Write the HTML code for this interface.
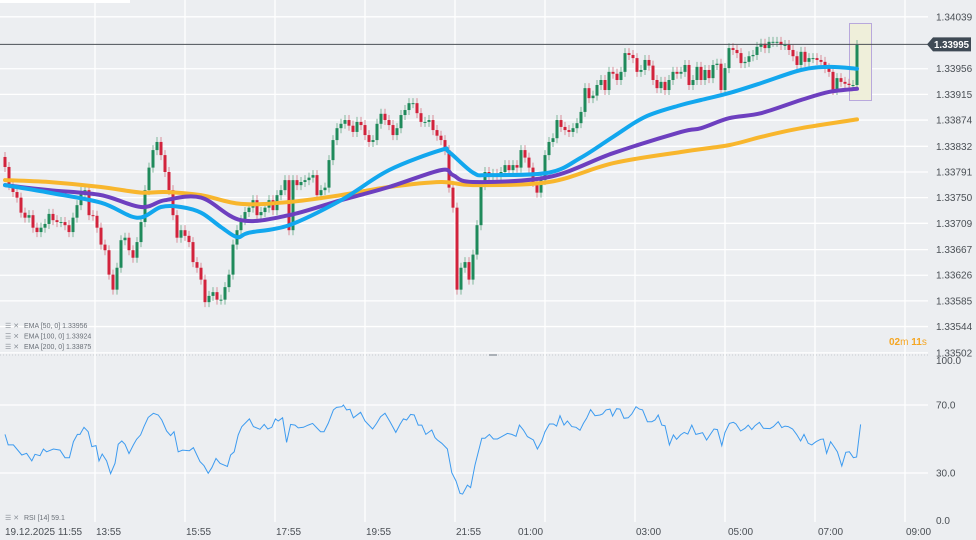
<!DOCTYPE html>
<html><head><meta charset="utf-8"><style>
html,body{margin:0;padding:0;background:#eceef1;}
#wrap{position:relative;width:976px;height:540px;overflow:hidden;background:#eceef1;font-family:"Liberation Sans",sans-serif;}
svg{position:absolute;left:0;top:0;}
</style></head><body>
<div id="wrap">
<svg id="chart" width="976" height="540"></svg>
</div>
<script>
// ---- data (prices in 1e-5 units above 1.33000) ----
const closes5 = [799,770,759,750,726,718,722,702,695,702,708,724,714,711,711,706,695,718,738,759,762,722,721,702,675,666,627,603,638,682,686,666,654,679,711,762,798,826,839,818,791,762,722,686,698,689,679,647,638,619,583,593,599,587,587,607,627,675,698,714,727,734,746,722,727,734,746,730,754,762,778,698,778,770,775,778,782,786,754,762,766,810,842,861,868,874,865,855,871,866,850,839,842,868,884,874,866,850,861,882,890,901,901,885,871,871,874,858,849,842,826,766,734,603,638,647,619,659,706,770,791,786,788,785,791,802,794,802,798,826,814,798,775,758,778,818,839,845,874,863,858,855,861,869,887,925,909,913,930,938,922,951,948,938,951,981,978,973,951,954,970,961,938,925,935,922,938,951,948,951,962,930,938,959,938,954,941,962,964,922,957,989,986,981,965,967,976,978,991,996,989,999,999,999,994,994,986,976,962,983,967,973,973,970,967,957,951,922,941,935,932,930,930,994];
const firstOpen5 = 815;
const wick5 = 8;

const ema50Idx = [0,11,24,33,39,44,49,54,58,61,71,84,96,109,111,117,121,136,144,152,160,169,174,181,189,199,206,213];
const ema50Val = [770,758,742,718,735,735,726,703,687,694,706,746,794,826,823,790,786,790,814,847,879,898,906,917,933,954,959,956];
const ema100Idx = [0,11,24,34,40,49,59,71,84,96,109,112,117,136,152,169,174,181,189,199,206,213];
const ema100Val = [770,762,754,735,746,750,714,722,746,767,794,786,775,783,821,855,861,877,885,906,919,924];
const ema200Idx = [0,11,24,34,40,49,59,71,84,96,109,117,136,152,169,181,189,199,213];
const ema200Val = [778,775,767,758,759,754,740,743,754,767,775,770,775,805,823,834,847,861,875];

const rsiIdx = [0,0.8,2.1,4.2,5.4,6.7,7.5,8.75,9.6,10.4,12.1,13.75,15,16.1,17.1,18.1,18.75,19.75,20.8,21.7,22.75,23.5,24.3,25.4,26.4,27.5,28.3,29.2,30,31,32.1,32.9,33.9,34.75,35.8,37.1,38.3,39.2,40.4,41.4,42.25,43.3,44.4,46.1,47.1,48.75,49.75,50.8,51.7,52.75,53.75,55.6,56.4,57.3,58.3,59.2,61.1,62.1,63.75,64.8,65.7,66.7,67.6,68.3,69.4,70.4,71.4,72.5,73.3,74.6,75.8,76.9,77.9,78.9,79.75,80.8,82.1,82.9,84.2,84.6,85.4,86.25,87.1,88.9,90,90.8,91.9,92.9,93.9,95,96.25,97.7,98.75,99.6,100.4,101.4,102.3,103.3,104.2,105.2,106.7,107.5,108.1,109.2,110.6,111.7,112.75,113.75,114.4,115.6,116.4,117.5,119.2,120,121.1,122.1,123.1,124.2,125.6,126.7,127.75,128.6,129.6,130.6,132.1,133.1,134.2,135,136.1,137.1,137.9,138.75,139.75,140.6,141.7,142.75,143.75,144.6,145.4,146.4,147.5,148.75,149.4,150.25,151.25,151.9,152.9,153.75,154.75,155.8,156.7,157.75,158.6,159.4,160.6,161.7,162.5,163.3,164.2,165,166.1,167.1,167.9,168.9,169.8,170.7,171.7,172.7,173.75,174.4,175.4,176.25,177.25,178.1,179.2,180,181.1,182.1,182.75,183.9,185,185.8,186.7,187.5,188.6,189.6,191.25,192.1,193.3,194.2,195,195.8,196.9,197.9,198.9,199.75,200.8,201.7,202.75,203.9,204.6,205.4,206.4,207.25,208.1,209.2,210.2,211.1,212.1,212.9,213.9];
const rsiVal = [52.7,46.5,46.5,40.6,41.6,37.1,41.0,40.2,44.1,42.5,44.1,43.5,39.0,39.0,48.4,52.7,52.7,56.9,54.3,45.5,46.1,37.1,41.2,37.1,29.6,35.7,46.9,48.8,46.9,41.4,46.5,49.8,52.4,57.3,62.7,65.1,64.1,61.2,54.7,52.0,54.3,42.5,43.5,43.1,44.9,36.7,34.3,29.8,33.1,38.6,35.7,33.9,40.6,42.5,52.4,57.3,61.8,57.3,55.7,58.6,55.9,56.9,61.8,60.6,62.5,48.0,58.6,58.2,56.5,56.9,58.2,59.2,56.7,54.3,54.3,59.2,67.1,68.6,69.0,70.0,67.1,67.5,62.5,65.7,60.6,58.6,55.9,59.2,63.1,65.1,60.2,53.9,58.6,61.8,61.2,64.5,64.1,58.2,58.2,52.7,55.3,50.8,49.4,47.5,44.1,30.2,25.3,18.0,17.6,22.9,21.4,34.7,50.4,50.4,52.7,50.0,50.0,51.4,53.3,52.7,51.6,58.2,55.3,51.4,49.4,44.1,48.8,54.3,58.8,58.8,57.6,63.7,58.2,60.6,57.3,56.9,55.1,59.2,62.2,67.3,63.7,64.1,64.7,67.1,67.6,63.5,67.8,67.6,62.2,62.5,64.7,69.0,67.6,67.1,60.2,60.2,61.2,64.1,58.2,57.8,46.5,52.4,49.8,52.4,53.9,52.9,58.2,52.7,53.3,53.7,49.4,52.4,55.9,55.5,46.1,53.9,59.2,59.8,58.8,54.7,56.3,58.2,55.5,57.8,59.8,56.3,56.1,57.3,60.2,56.7,57.6,57.3,55.9,52.7,48.8,52.7,47.5,46.5,48.4,49.8,50.0,41.6,48.4,45.5,42.5,34.1,42.2,42.5,39.0,39.4,58.6];

const priceTicks = ["1.34039","1.33956","1.33915","1.33874","1.33832","1.33791","1.33750","1.33709","1.33667","1.33626","1.33585","1.33544","1.33502"];
const rsiTicks = [100,70,30,0];
const timeLabels = ["19.12.2025  11:55","13:55","15:55","17:55","19:55","21:55","01:00","03:00","05:00","07:00","09:00"];
const timeLabelIdx = [0,22.5,45,67.5,90,112.5,128,157.5,180.5,203,225];
const gridIdx = [22.5,45,67.5,90,112.5,135,157.5,180,202.5,225];
const lastPrice = "1.33995";

// ---- axes ----
const NS="http://www.w3.org/2000/svg";
const svg=document.getElementById('chart');
const xS = i => 5 + 4*i;
const yP = p5 => 667 - 0.6258*p5;
const yR = v => 524 - 1.7*v;
const PLOT_R = 928;
function mk(tag, attrs, parent){const e=document.createElementNS(NS,tag);for(const k in attrs)e.setAttribute(k,attrs[k]);(parent||svg).appendChild(e);return e;}

let e=mk('rect',{x:0,y:0,width:130,height:3,fill:'#ffffff'});



gridIdx.forEach(g=>{
  const l=mk('line',{x1:xS(g),x2:xS(g),y1:0,y2:522,stroke:'#ffffff','stroke-width':1.3});
  
  
});
priceTicks.forEach(t=>{
  const p5=Math.round((parseFloat(t)-1.33)*1e5);
  const y=yP(p5);
  const l=mk('line',{x1:0,x2:PLOT_R,y1:y,y2:y,stroke:'#ffffff','stroke-width':1.3});
  
  
  const tx=mk('text',{x:936,y:y+3.5,'font-size':10,fill:'#4a4f55'});
  tx.textContent=t;
  
  
});
rsiTicks.forEach(v=>{
  const y=yR(v);
  if(v===70||v===30){
    const l=mk('line',{x1:0,x2:PLOT_R,y1:y,y2:y,stroke:'#ffffff','stroke-width':1.3});
    
    
  }
  const ty = v===100? y+10 : (v===0? y : y+3.5);
  const tx=mk('text',{x:936,y:ty,'font-size':10,fill:'#4a4f55'});
  tx.textContent=v.toFixed(1);
  
  
});
e=mk('line',{x1:0,x2:PLOT_R,y1:355,y2:355,stroke:'#c9ccd1','stroke-width':1,'stroke-dasharray':'1,2'});


e=mk('rect',{x:489,y:354,width:8,height:2,fill:'#aab0b7'});



e=mk('rect',{x:849.5,y:23.5,width:22,height:77,fill:'#efefda',stroke:'#b8a8dc','stroke-width':1});



let prev=firstOpen5;
closes5.forEach((c,i)=>{
  const o=prev; prev=c;
  const up=c>=o;
  const hi=Math.max(o,c)+wick5, lo=Math.min(o,c)-wick5;
  const x=xS(i);
  const col= up?'#1f8a5b':'#d2233c';
  const w=mk('line',{x1:x,x2:x,y1:yP(hi),y2:yP(lo),stroke:up?'#7fb79c':'#d98e99','stroke-width':1});
  
  
  const y1=yP(Math.max(o,c)), y2=yP(Math.min(o,c));
  const b=mk('rect',{x:x-1.5,y:y1,width:3,height:Math.max(1,y2-y1),fill:col});
  
  
});

// smooth curve (Catmull-Rom -> Bezier)
function smoothPath(pts){
  let d='M'+pts[0][0].toFixed(1)+' '+pts[0][1].toFixed(1);
  for(let k=0;k<pts.length-1;k++){
    const p0=pts[Math.max(0,k-1)],p1=pts[k],p2=pts[k+1],p3=pts[Math.min(pts.length-1,k+2)];
    const c1x=p1[0]+(p2[0]-p0[0])/6,c1y=p1[1]+(p2[1]-p0[1])/6;
    const c2x=p2[0]-(p3[0]-p1[0])/6,c2y=p2[1]-(p3[1]-p1[1])/6;
    d+=` C${c1x.toFixed(1)} ${c1y.toFixed(1)} ${c2x.toFixed(1)} ${c2y.toFixed(1)} ${p2[0].toFixed(1)} ${p2[1].toFixed(1)}`;
  }
  return d;
}
function line(idx,val,color,name){
  const pts=idx.map((i,k)=>[xS(i),yP(val[k])]);
  const p=mk('path',{d:smoothPath(pts),fill:'none',stroke:color,'stroke-width':4,'stroke-linejoin':'round','stroke-linecap':'round'});
  
  
}
line(ema200Idx,ema200Val,'#f8b62d','ema-200-line');
line(ema100Idx,ema100Val,'#6d3fbf','ema-100-line');
line(ema50Idx,ema50Val,'#12a7ee','ema-50-line');

const yl=yP(995);
e=mk('line',{x1:0,x2:PLOT_R,y1:yl,y2:yl,stroke:'#4b5056','stroke-width':1});


e=mk('path',{d:`M927 ${yl} L933 ${yl-7} L971 ${yl-7} L971 ${yl+7} L933 ${yl+7} Z`,fill:'#3f4a55'});


e=mk('text',{x:934,y:yl+3.5,'font-size':10,fill:'#ffffff','font-weight':'bold','textLength':35,'lengthAdjust':'spacingAndGlyphs'});
e.textContent=lastPrice;



e=mk('text',{x:889,y:345,'font-size':10,fill:'#f5a623'});
e.innerHTML='<tspan font-weight="bold">02</tspan>m <tspan font-weight="bold">11</tspan>s';



const rp=rsiIdx.map((i,k)=>xS(i).toFixed(1)+','+yR(rsiVal[k]).toFixed(1)).join(' ');
e=mk('polyline',{points:rp,fill:'none',stroke:'#3d9bf0','stroke-width':1});



const legends=["EMA [50, 0] 1.33956","EMA [100, 0] 1.33924","EMA [200, 0] 1.33875"];
legends.forEach((t,k)=>{
  const y=328+k*10.5;
  const ic=mk('text',{x:5,y:y,'font-size':7,fill:'#8a9098'});
  ic.textContent='☰ ✕';
  
  
  const tx=mk('text',{x:24,y:y,'font-size':7,fill:'#6a7078'});
  tx.textContent=t;
  
  
});
e=mk('text',{x:5,y:520,'font-size':7,fill:'#8a9098'});
e.textContent='☰ ✕';


e=mk('text',{x:24,y:520,'font-size':7,fill:'#6a7078'});
e.textContent='RSI [14] 59.1';



timeLabels.forEach((t,k)=>{
  const x = k===0 ? 5 : xS(timeLabelIdx[k])+1;
  const tx=mk('text',{x:x,y:535,'font-size':10,fill:'#4a4f55','xml:space':'preserve'});
  tx.textContent=t;
  
  
});
</script>
</body></html>
